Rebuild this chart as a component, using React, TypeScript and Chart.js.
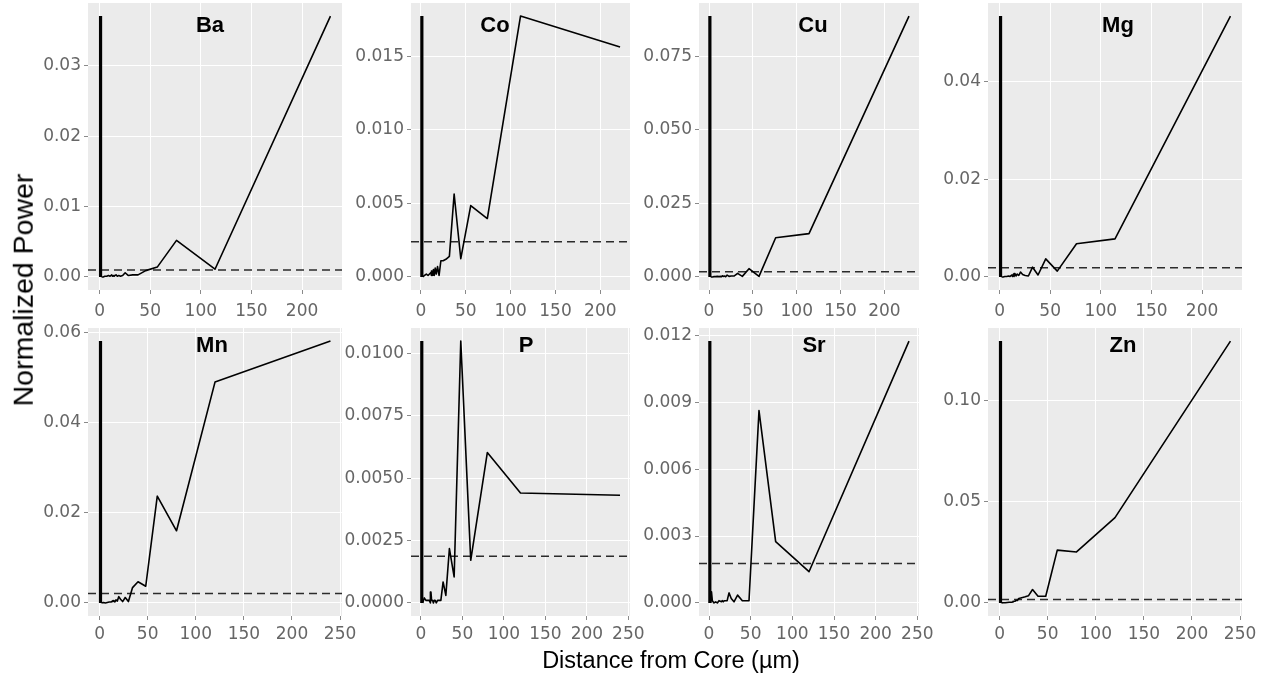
import React, { useEffect, useRef } from "react";
import { Chart, registerables } from "chart.js";

Chart.register(...registerables);

const PAGE_W = 1268;
const PAGE_H = 680;

// ---------- data ----------
const spikeDistance = 1;

const topXTicks = ["0", "50", "100", "150", "200"];
const bottomXTicks = ["0", "50", "100", "150", "200", "250"];

const baDistance = [228, 114, 76, 57, 45.6, 38, 32.6, 28.5, 25.3, 22.8, 20.7, 19, 17.5, 16.3, 15.2, 14.3, 13.4, 12.7, 12, 10.4, 8.8, 7.1, 5.2, 3.6, 2];
const baPower = [0.0371, 0.0011, 0.0052, 0.0014, 0.0009, 0.0003, 0.0003, 0.0002, 0.0006, 0.0002, 0.0001, 0.0002, 0.0001, 0.0003, 0.0002, 0.0001, 0.0002, 0.0001, 0.0003, 0.0001, 0.0002, 0.0001, 0.0001, 0.0, 0.0];
const baThreshold = 0.001;
const baYTicks = ["0.00", "0.01", "0.02", "0.03"];

const coDistance = [222, 111, 74, 55.5, 44.4, 37, 31.7, 27.8, 24.7, 22.2, 20.2, 18.5, 17.1, 15.9, 14.8, 13.9, 13.1, 12.3, 11.7, 11.1, 9.5, 7.9, 6, 4, 2];
const coPower = [0.01563, 0.01773, 0.00397, 0.00485, 0.00124, 0.00564, 0.0014, 0.0012, 0.0011, 0.0011, 0.0001, 0.0007, 0.0002, 0.0006, 0.0001, 0.0005, 0.0001, 0.0004, 0.0001, 0.0003, 0.0002, 0.0001, 0.0002, 0.0001, 0.0];
const coThreshold = 0.0024;
const coYTicks = ["0.000", "0.005", "0.010", "0.015"];

const cuDistance = [228, 114, 76, 57, 45.6, 38, 32.6, 28.5, 25.3, 22.8, 20.7, 19, 17.5, 16.3, 15.2, 14.3, 12.7, 11.4, 9.5, 7.6, 5.7, 3.8, 2];
const cuPower = [0.0886, 0.0147, 0.0133, 0.0002, 0.0028, 0.0002, 0.0012, 0.0003, 0.0003, 0.0002, 0.0006, 0.0001, 0.0003, 0.0002, 0.0004, 0.0001, 0.0002, 0.0001, 0.0002, 0.0001, 0.0001, 0.0, 0.0];
const cuThreshold = 0.0018;
const cuYTicks = ["0.000", "0.025", "0.050", "0.075"];

const mgDistance = [228, 114, 76, 57, 45.6, 38, 32.6, 28.5, 25.3, 22.8, 20.7, 19, 17.5, 16.3, 15.2, 14.3, 13.4, 12.7, 12, 10.4, 8.8, 7.1, 5.2, 3.6, 2];
const mgPower = [0.0535, 0.0078, 0.0068, 0.0012, 0.0037, 0.0004, 0.002, 0.0002, 0.0003, 0.0005, 0.001, 0.0003, 0.0006, 0.0002, 0.0007, 0.0001, 0.0005, 0.0001, 0.0004, 0.0001, 0.0002, 0.0001, 0.0001, 0.0, 0.0];
const mgThreshold = 0.0019;
const mgYTicks = ["0.00", "0.02", "0.04"];

const mnDistance = [240, 120, 80, 60, 48, 40, 34.3, 30, 26.7, 24, 21.8, 20, 18.5, 17.1, 16, 15, 14.1, 13.3, 12, 10, 8, 6, 4, 2];
const mnPower = [0.0581, 0.049, 0.016, 0.0237, 0.0037, 0.0047, 0.0034, 0.0003, 0.0012, 0.0003, 0.0008, 0.0014, 0.0004, 0.0007, 0.0002, 0.0005, 0.0003, 0.0004, 0.0002, 0.0002, 0.0001, 0.0, 0.0001, 0.0];
const mnThreshold = 0.0021;
const mnYTicks = ["0.00", "0.02", "0.04", "0.06"];

const pDistance = [240, 120, 80, 60, 48, 40, 34.3, 30, 26.7, 24, 21.8, 20, 18.5, 17.1, 16, 15, 14.1, 13.3, 12.6, 12, 11.4, 10, 8, 6, 4, 2];
const pPower = [0.00432, 0.00441, 0.00603, 0.00171, 0.0105, 0.00104, 0.00218, 0.0003, 0.00084, 0.0001, 0.0001, 0.0001, 0.0, 0.0001, 0.0001, 0.0, 0.0001, 0.0001, 0.0002, 0.00044, 0.0, 0.0001, 0.0001, 0.0001, 0.0002, 0.0];
const pThreshold = 0.00187;
const pYTicks = ["0.0000", "0.0025", "0.0050", "0.0075", "0.0100"];

const srDistance = [240, 120, 80, 60, 48, 40, 34.3, 30, 26.7, 24, 21.8, 20, 18.5, 17.1, 16, 15, 12, 10, 8, 6, 4, 3, 2];
const srPower = [0.01175, 0.0014, 0.00275, 0.00863, 0.0001, 0.0001, 0.00035, 0.00005, 0.0002, 0.00045, 0.0001, 0.0001, 0.0001, 0.00005, 0.0001, 0.00005, 0.0001, 0.0, 0.00005, 0.0, 0.0001, 0.0005, 0.0];
const srThreshold = 0.00177;
const srYTicks = ["0.000", "0.003", "0.006", "0.009", "0.012"];

const znDistance = [240, 120, 80, 60, 48, 40, 34.3, 30, 26.7, 24, 21.8, 20, 18.5, 17.1, 16, 15, 14.1, 13.3, 12, 10, 8, 6, 4, 2];
const znPower = [0.1295, 0.0422, 0.0252, 0.0261, 0.0033, 0.0033, 0.0066, 0.0035, 0.003, 0.0027, 0.0024, 0.0022, 0.0012, 0.0012, 0.0008, 0.0008, 0.0005, 0.0004, 0.0003, 0.0003, 0.0002, 0.0001, 0.0001, 0.0];
const znThreshold = 0.00165;
const znYTicks = ["0.00", "0.05", "0.10"];

const panelData = [
  { name: "Ba", distance: baDistance, power: baPower, threshold: baThreshold, yTicks: baYTicks, xTicks: topXTicks },
  { name: "Co", distance: coDistance, power: coPower, threshold: coThreshold, yTicks: coYTicks, xTicks: topXTicks },
  { name: "Cu", distance: cuDistance, power: cuPower, threshold: cuThreshold, yTicks: cuYTicks, xTicks: topXTicks },
  { name: "Mg", distance: mgDistance, power: mgPower, threshold: mgThreshold, yTicks: mgYTicks, xTicks: topXTicks },
  { name: "Mn", distance: mnDistance, power: mnPower, threshold: mnThreshold, yTicks: mnYTicks, xTicks: bottomXTicks },
  { name: "P", distance: pDistance, power: pPower, threshold: pThreshold, yTicks: pYTicks, xTicks: bottomXTicks },
  { name: "Sr", distance: srDistance, power: srPower, threshold: srThreshold, yTicks: srYTicks, xTicks: bottomXTicks },
  { name: "Zn", distance: znDistance, power: znPower, threshold: znThreshold, yTicks: znYTicks, xTicks: bottomXTicks },
];

// ---------- layout (pixels) ----------
const columnEdges = [[88, 342], [411, 630], [699, 919], [988, 1242]];
const rowEdges = [[3, 290], [328, 616]];
const titleCenters = [210, 495, 813, 1118, 212, 526, 814, 1123];
const rowTitleCapCenter = [24.5, 344];
const rowTickPadding = [7, 4];
const Y_AXIS_W = 80;
const X_AXIS_H = 34;

const TICK_FONT = "'DejaVu Sans', Verdana, sans-serif";
const TITLE_FONT = "'Liberation Sans', Arial, Helvetica, sans-serif";

const panelBgPlugin = {
  id: "panelBg",
  beforeDraw(chart: any) {
    const { ctx, chartArea: a } = chart;
    ctx.save();
    ctx.fillStyle = "#EBEBEB";
    ctx.fillRect(a.left, a.top, a.right - a.left, a.bottom - a.top);
    ctx.restore();
  },
};

const panelTitlePlugin = {
  id: "panelTitle",
  afterDatasetsDraw(chart: any, _args: any, opts: any) {
    const ctx = chart.ctx;
    ctx.save();
    ctx.font = `bold 22px ${TITLE_FONT}`;
    ctx.fillStyle = "#000";
    ctx.textAlign = "center";
    ctx.textBaseline = "alphabetic";
    ctx.fillText(opts.text, opts.x, opts.y + (0.716 * 22) / 2);
    ctx.restore();
  },
};

function makeChart(canvas: HTMLCanvasElement, p: any, i: number) {
  const col = i % 4;
  const row = Math.floor(i / 4);
  const [left, right] = columnEdges[col];
  const [top, bottom] = rowEdges[row];
  const xMaxData = Math.max(...p.distance);
  const yMaxData = Math.max(...p.power);
  const xMin = -0.05 * xMaxData;
  const xMax = 1.05 * xMaxData;
  const yMin = -0.05 * yMaxData;
  const yMax = 1.05 * yMaxData;

  const line = p.distance.map((d: number, k: number) => ({ x: d, y: p.power[k] }));
  const spike = [
    { x: spikeDistance, y: 0 },
    { x: spikeDistance, y: yMaxData },
  ];
  const dashed = [
    { x: xMin, y: p.threshold },
    { x: xMax, y: p.threshold },
  ];

  const tickFont = { family: TICK_FONT, size: 17 };

  return new Chart(canvas, {
    type: "line",
    data: {
      datasets: [
        { data: dashed, borderColor: "#2b2b2b", borderWidth: 1.5, borderDash: [8, 5], pointRadius: 0, order: 3 },
        { data: line, borderColor: "#000", borderWidth: 1.6, pointRadius: 0, tension: 0, borderJoinStyle: "round", order: 2 },
        { data: spike, borderColor: "#000", borderWidth: 3.2, pointRadius: 0, order: 1 },
      ],
    },
    options: {
      animation: false,
      responsive: false,
      events: [],
      layout: {
        padding: {
          left: left - Y_AXIS_W,
          right: PAGE_W - right,
          top: top,
          bottom: PAGE_H - bottom - X_AXIS_H,
        },
      },
      plugins: {
        legend: { display: false },
        tooltip: { enabled: false },
        panelTitle: { text: p.name, x: titleCenters[i], y: rowTitleCapCenter[row] },
      } as any,
      scales: {
        x: {
          type: "linear",
          min: xMin,
          max: xMax,
          afterBuildTicks: (s: any) => {
            s.ticks = p.xTicks.map((t: string) => ({ value: Number(t) }));
          },
          afterFit: (s: any) => {
            s.height = X_AXIS_H;
            s.paddingLeft = 0;
            s.paddingRight = 0;
            s.paddingTop = 0;
            s.paddingBottom = 0;
          },
          grid: { color: "#FFFFFF", lineWidth: 1, tickLength: 4, tickColor: "#8a8a8a", drawTicks: true },
          border: { display: false },
          ticks: {
            autoSkip: false,
            maxRotation: 0,
            minRotation: 0,
            padding: rowTickPadding[row],
            color: "#666666",
            font: tickFont,
            callback: (_v: any, idx: number) => p.xTicks[idx],
          },
        },
        y: {
          type: "linear",
          min: yMin,
          max: yMax,
          afterBuildTicks: (s: any) => {
            s.ticks = p.yTicks.map((t: string) => ({ value: Number(t) }));
          },
          afterFit: (s: any) => {
            s.width = Y_AXIS_W;
            s.paddingLeft = 0;
            s.paddingRight = 0;
            s.paddingTop = 0;
            s.paddingBottom = 0;
          },
          grid: { color: "#FFFFFF", lineWidth: 1, tickLength: 4, tickColor: "#8a8a8a", drawTicks: true },
          border: { display: false },
          ticks: {
            autoSkip: false,
            padding: 3,
            color: "#666666",
            font: tickFont,
            callback: (_v: any, idx: number) => p.yTicks[idx],
          },
        },
      },
    } as any,
    plugins: [panelBgPlugin, panelTitlePlugin],
  });
}

function Panel({ p, index }: { p: any; index: number }) {
  const ref = useRef<HTMLCanvasElement>(null);
  useEffect(() => {
    if (!ref.current) return;
    const chart = makeChart(ref.current, p, index);
    return () => chart.destroy();
  }, [p, index]);
  return (
    <canvas
      ref={ref}
      width={PAGE_W}
      height={PAGE_H}
      style={{ position: "absolute", left: 0, top: 0, width: PAGE_W, height: PAGE_H }}
    />
  );
}

export default function App() {
  return (
    <div
      style={{
        position: "fixed",
        left: 0,
        top: 0,
        width: PAGE_W,
        height: PAGE_H,
        background: "#fff",
        overflow: "hidden",
      }}
    >
      {panelData.map((p, i) => (
        <Panel key={p.name} p={p} index={i} />
      ))}
      <div
        style={{
          position: "absolute",
          left: 671,
          top: 649,
          transform: "translateX(-50%)",
          fontFamily: TITLE_FONT,
          fontSize: 23.5,
          lineHeight: 1,
          whiteSpace: "nowrap",
          color: "#000",
        }}
      >
        Distance from Core (µm)
      </div>
      <div
        style={{
          position: "absolute",
          left: 23,
          top: 290,
          transform: "translate(-50%, -50%) rotate(-90deg)",
          fontFamily: TITLE_FONT,
          fontSize: 28.5,
          lineHeight: 1,
          whiteSpace: "nowrap",
          color: "#000",
        }}
      >
        Normalized Power
      </div>
    </div>
  );
}
